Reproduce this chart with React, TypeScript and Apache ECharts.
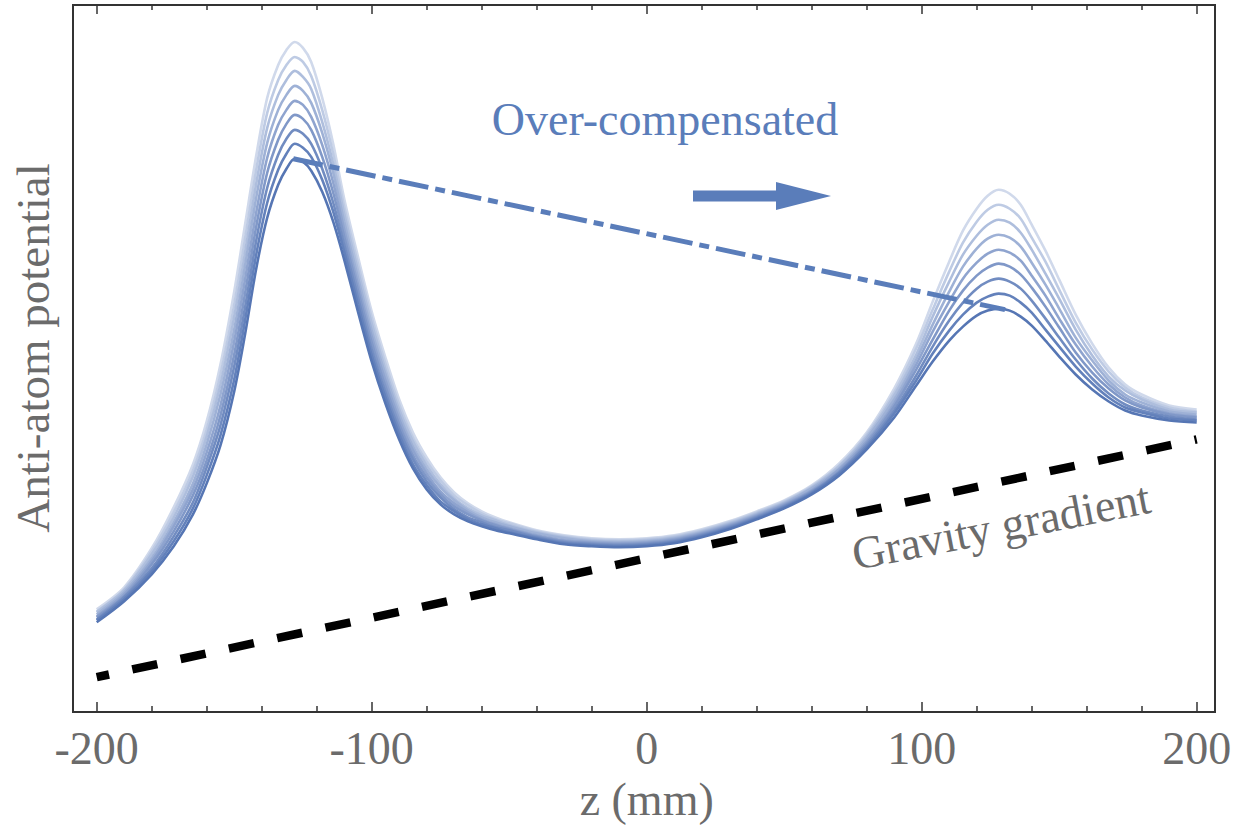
import React, { useEffect, useRef } from "react";
import * as echarts from "echarts";

// z positions (mm) shared by every potential curve
const zValues = [
  -200, -190, -180, -172, -165, -160, -155, -150, -146, -142,
  -138, -134, -131, -128, -125, -122, -118, -114, -110, -105,
  -100, -95, -90, -85, -80, -75, -70, -65, -60, -55,
  -50, -40, -30, -20, -10, 0, 10, 20, 30, 40,
  50, 60, 70, 80, 90, 98, 104, 110, 115, 120,
  124, 128, 132, 136, 140, 145, 150, 156, 162, 168,
  174, 180, 190, 200,
];

// anti-atom potential (arbitrary units), darkest curve (curve0) to lightest (curve8)
const curve0 = [89,110,137,165,197,228,266,320,378,443, 494,527,543,553,550,541,520,490,452,400, 350,308,272,243,222,207,197,190,185,181, 178,172,167,165,164,165,168,174,182,192, 203,217,236,262,294,326,350,371,385,396, 401,403,401,395,386,371,355,337,322,310, 301,296,291,289];
const curve1 = [91,112,140,170,203,236,276,332,392,457, 509,542,558,568,564,555,532,500,460,407, 356,314,277,247,226,210,200,192,187,183, 179,173,168,166,165,166,169,175,183,193, 204,218,238,264,298,331,358,381,397,409, 415,418,416,409,399,382,365,345,328,314, 304,299,293,291];
const curve2 = [92,114,143,175,209,244,286,345,405,471, 524,557,573,582,578,568,543,509,467,414, 362,319,282,252,230,214,202,194,189,184, 181,174,169,167,166,167,170,176,184,194, 205,219,239,266,301,336,365,391,409,423, 430,433,430,423,411,393,374,352,333,318, 307,301,295,292];
const curve3 = [94,115,147,180,216,251,296,357,419,485, 539,572,588,597,593,582,555,519,475,421, 369,325,287,256,234,217,205,197,191,186, 182,175,170,168,167,168,171,177,185,195, 206,220,240,268,305,342,372,401,421,436, 444,448,445,437,424,405,384,359,339,323, 311,304,297,294];
const curve4 = [95,117,150,185,222,259,306,370,433,499, 554,587,602,611,607,595,567,529,482,427, 375,331,292,261,238,220,208,199,192,187, 183,176,171,169,168,169,172,178,186,196, 207,221,242,270,308,347,380,410,433,449, 458,462,459,451,436,416,393,367,345,327, 314,306,298,295];
const curve5 = [97,119,153,189,228,267,317,382,447,514, 569,602,617,626,621,609,579,539,490,434, 381,337,297,265,242,224,211,201,194,189, 185,178,173,170,169,170,173,179,187,197, 208,223,243,273,312,352,387,420,445,463, 473,477,474,465,449,427,403,374,351,331, 317,309,300,297];
const curve6 = [99,121,157,194,235,275,327,395,460,528, 584,617,632,641,635,623,590,548,498,441, 388,342,302,270,246,227,213,203,196,191, 186,179,174,171,170,171,174,180,188,198, 209,224,245,275,316,357,395,430,457,476, 487,492,489,479,462,438,413,382,356,335, 321,312,302,299];
const curve7 = [100,122,160,199,241,282,337,407,474,542, 599,632,647,655,650,636,602,558,505,448, 394,348,307,274,250,231,216,206,198,192, 188,180,175,172,171,172,175,181,189,199, 210,225,246,277,319,363,402,440,469,490, 502,507,503,493,474,450,422,389,362,340, 324,314,304,300];
const curve8 = [102,124,163,204,247,290,347,420,488,556, 614,647,662,670,664,650,614,568,513,455, 400,354,312,279,254,234,219,208,200,194, 189,181,176,173,172,173,176,182,190,200, 211,226,248,279,323,368,410,450,481,503, 516,522,518,507,487,461,432,397,368,344, 327,317,306,302];

// gravity gradient line
const gravityZ = [-200, 200];
const gravityV = [34, 272];

// dash-dot trend line joining the darkest curve's peaks
const trendZ = [-128.5, 130.3];
const trendV = [553, 402];

const xTickLabels = ["-200", "-100", "0", "100", "200"];

const curveColors = [
  "#5676b4", "#6381bb", "#718cc1", "#8098c8", "#8fa4cf",
  "#9eb1d6", "#aebedd", "#becbe4", "#d0d9eb",
];

const SERIF = "'Liberation Serif', 'Times New Roman', serif";
const GRAY = "#6b6b6b";
const BLUE = "#5a7dba";

export default function App() {
  const ref = useRef<HTMLDivElement>(null);

  useEffect(() => {
    if (!ref.current) return;
    const chart = echarts.init(ref.current, undefined, { renderer: "svg" });
    const curves = [curve0, curve1, curve2, curve3, curve4, curve5, curve6, curve7, curve8];

    const series: any[] = [];
    for (let i = curves.length - 1; i >= 0; i--) {
      series.push({
        type: "line",
        data: zValues.map((z, k) => [z, curves[i][k]]),
        smooth: 0.3,
        symbol: "none",
        silent: true,
        lineStyle: { color: curveColors[i], width: 2.6 },
        z: 2 + (curves.length - i),
      });
    }
    series.push({
      type: "line",
      data: gravityZ.map((z, k) => [z, gravityV[k]]),
      symbol: "none",
      silent: true,
      lineStyle: { color: "#000", width: 8.5, type: [25.6, 23.8], dashOffset: 12.6, cap: "butt" },
      z: 20,
    });
    series.push({
      type: "line",
      data: trendZ.map((z, k) => [z, trendV[k]]),
      symbol: "none",
      silent: true,
      lineStyle: { color: BLUE, width: 5, type: [30, 7, 10, 7], cap: "butt" },
      z: 21,
    });

    const tickCommon = {
      axisLine: { show: false },
      axisTick: { show: true, inside: true, length: 9, lineStyle: { color: "#333", width: 1.5 } },
      minorTick: { show: true, splitNumber: 5, length: 5, lineStyle: { color: "#333", width: 1.5 } },
      splitLine: { show: false },
      minorSplitLine: { show: false },
    };

    chart.setOption({
      animation: false,
      backgroundColor: "#fff",
      grid: { left: 96.7, right: 39.3, top: 5, bottom: 115, containLabel: false },
      xAxis: [
        {
          type: "value",
          min: -200,
          max: 200,
          interval: 100,
          position: "bottom",
          ...tickCommon,
          axisLabel: {
            show: true,
            margin: 14,
            fontSize: 46,
            fontFamily: SERIF,
            color: GRAY,
            formatter: (v: number) => xTickLabels[Math.round((v + 200) / 100)] ?? String(v),
          },
          name: "z (mm)",
          nameLocation: "middle",
          nameGap: 58,
          nameTextStyle: { fontSize: 46, fontFamily: SERIF, color: GRAY },
        },
        {
          type: "value",
          min: -200,
          max: 200,
          interval: 100,
          position: "top",
          ...tickCommon,
          axisLabel: { show: false },
        },
      ],
      yAxis: {
        type: "value",
        min: 0,
        max: 707,
        axisLine: { show: false },
        axisTick: { show: false },
        axisLabel: { show: false },
        splitLine: { show: false },
      },
      series,
      graphic: [
        {
          type: "rect",
          shape: { x: 73, y: 5, width: 1142, height: 707 },
          style: { fill: "none", stroke: "#333", lineWidth: 2 },
          silent: true,
          z: 100,
        },
        {
          type: "text",
          x: 33,
          y: 348,
          rotation: Math.PI / 2,
          style: {
            text: "Anti-atom potential",
            fontSize: 47,
            fontFamily: SERIF,
            fill: GRAY,
            align: "center",
            verticalAlign: "middle",
            textAlign: "center",
            textVerticalAlign: "middle",
          },
          z: 100,
        },
        {
          type: "text",
          x: 665,
          y: 119,
          style: {
            text: "Over-compensated",
            fontSize: 46,
            fontFamily: SERIF,
            fill: BLUE,
            align: "center",
            verticalAlign: "middle",
            textAlign: "center",
            textVerticalAlign: "middle",
          },
          z: 100,
        },
        {
          type: "rect",
          shape: { x: 693, y: 190.5, width: 88, height: 11 },
          style: { fill: BLUE },
          z: 100,
        },
        {
          type: "polygon",
          shape: { points: [[776, 182], [831, 196], [776, 210]] },
          style: { fill: BLUE },
          z: 100,
        },
        {
          type: "text",
          x: 1001,
          y: 526,
          rotation: (11 * Math.PI) / 180,
          style: {
            text: "Gravity gradient",
            fontSize: 46,
            fontFamily: SERIF,
            fill: GRAY,
            align: "center",
            verticalAlign: "middle",
            textAlign: "center",
            textVerticalAlign: "middle",
          },
          z: 100,
        },
      ],
    });

    return () => chart.dispose();
  }, []);

  return (
    <div
      ref={ref}
      style={{ position: "fixed", left: 0, top: 0, width: 1236, height: 827, background: "#fff" }}
    />
  );
}
